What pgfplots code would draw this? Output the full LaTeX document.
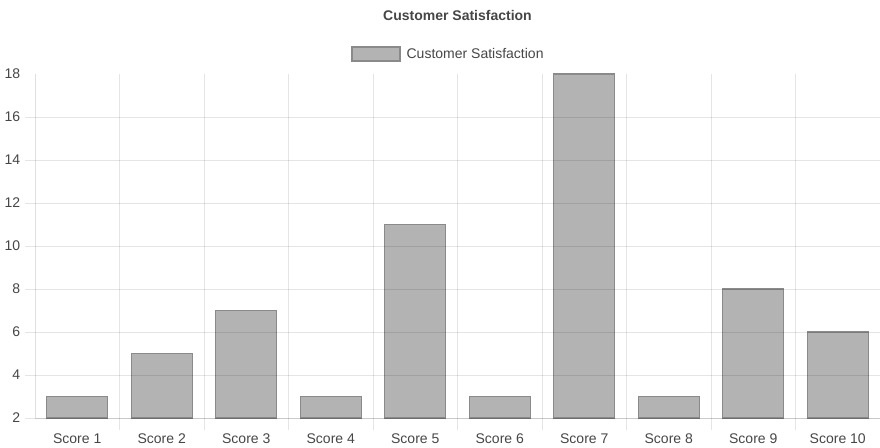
\documentclass[border=0pt]{standalone}
\usepackage{pgfplots}
\pgfplotsset{compat=1.18}
\usepackage{fontspec}
\setmainfont{Liberation Sans}
\definecolor{barfill}{RGB}{179,179,179}
\definecolor{barline}{RGB}{138,138,138}
\definecolor{txt}{RGB}{70,70,70}
\begin{document}
\fontsize{14}{17}\selectfont
\begin{tikzpicture}
\begin{axis}[
  scale only axis, width=845pt, height=344pt,
  xmin=-0.5, xmax=9.5, ymin=2, ymax=18,
  axis x line*=bottom, axis y line*=left,
  axis line style={draw=black, draw opacity=0.12, line width=0.8pt},
  axis on top,
  ybar, bar width=61pt,
  /pgf/number format/assume math mode=true,
  ytick={2,4,...,16},
  extra y ticks={18},
  extra y tick style={grid=none, tick style={draw=none}},
  ymajorgrids,
  tick align=outside,
  major tick length=10pt,
  xtick={0,...,9},
  xticklabels={Score 1,Score 2,Score 3,Score 4,Score 5,Score 6,Score 7,Score 8,Score 9,Score 10},
  minor xtick={0.5,1.5,...,8.5},
  minor tick length=12pt,
  xminorgrids,
  grid style={draw=black, draw opacity=0.1, line width=0.8pt},
  minor grid style={draw=black, draw opacity=0.1, line width=0.8pt},
  tick style={draw=black, draw opacity=0.1, line width=0.8pt},
  major x tick style={draw=none},
  ticklabel style={text=txt, font=\fontsize{14}{17}\selectfont},
  xticklabel style={yshift=-1pt},
  title={\bfseries Customer Satisfaction},
  title style={at={(0.5,1)}, anchor=center, yshift=53pt, text=txt, font=\fontsize{14}{17}\selectfont},
  legend style={at={(0.5,1)}, anchor=center, yshift=20pt, xshift=-9pt, draw=none, fill=none,
    text=txt, font=\fontsize{14}{17}\selectfont,
    /tikz/every odd column/.append style={column sep=4pt}},
  legend image code/.code={\draw[fill=barfill, draw=barline, line width=1.2pt] (0pt,-7pt) rectangle (48pt,7pt);},
]
\addplot[fill=barfill, draw=barline, line width=1.4pt] coordinates {
(0,3) (1,5) (2,7) (3,3) (4,11) (5,3) (6,18) (7,3) (8,8) (9,6)};
\addlegendentry{Customer Satisfaction}
\end{axis}
\pgfresetboundingbox
\path ([xshift=-35pt,yshift=-29pt]current axis.south west) rectangle ([yshift=74pt]current axis.north east);
\end{tikzpicture}
\end{document}
